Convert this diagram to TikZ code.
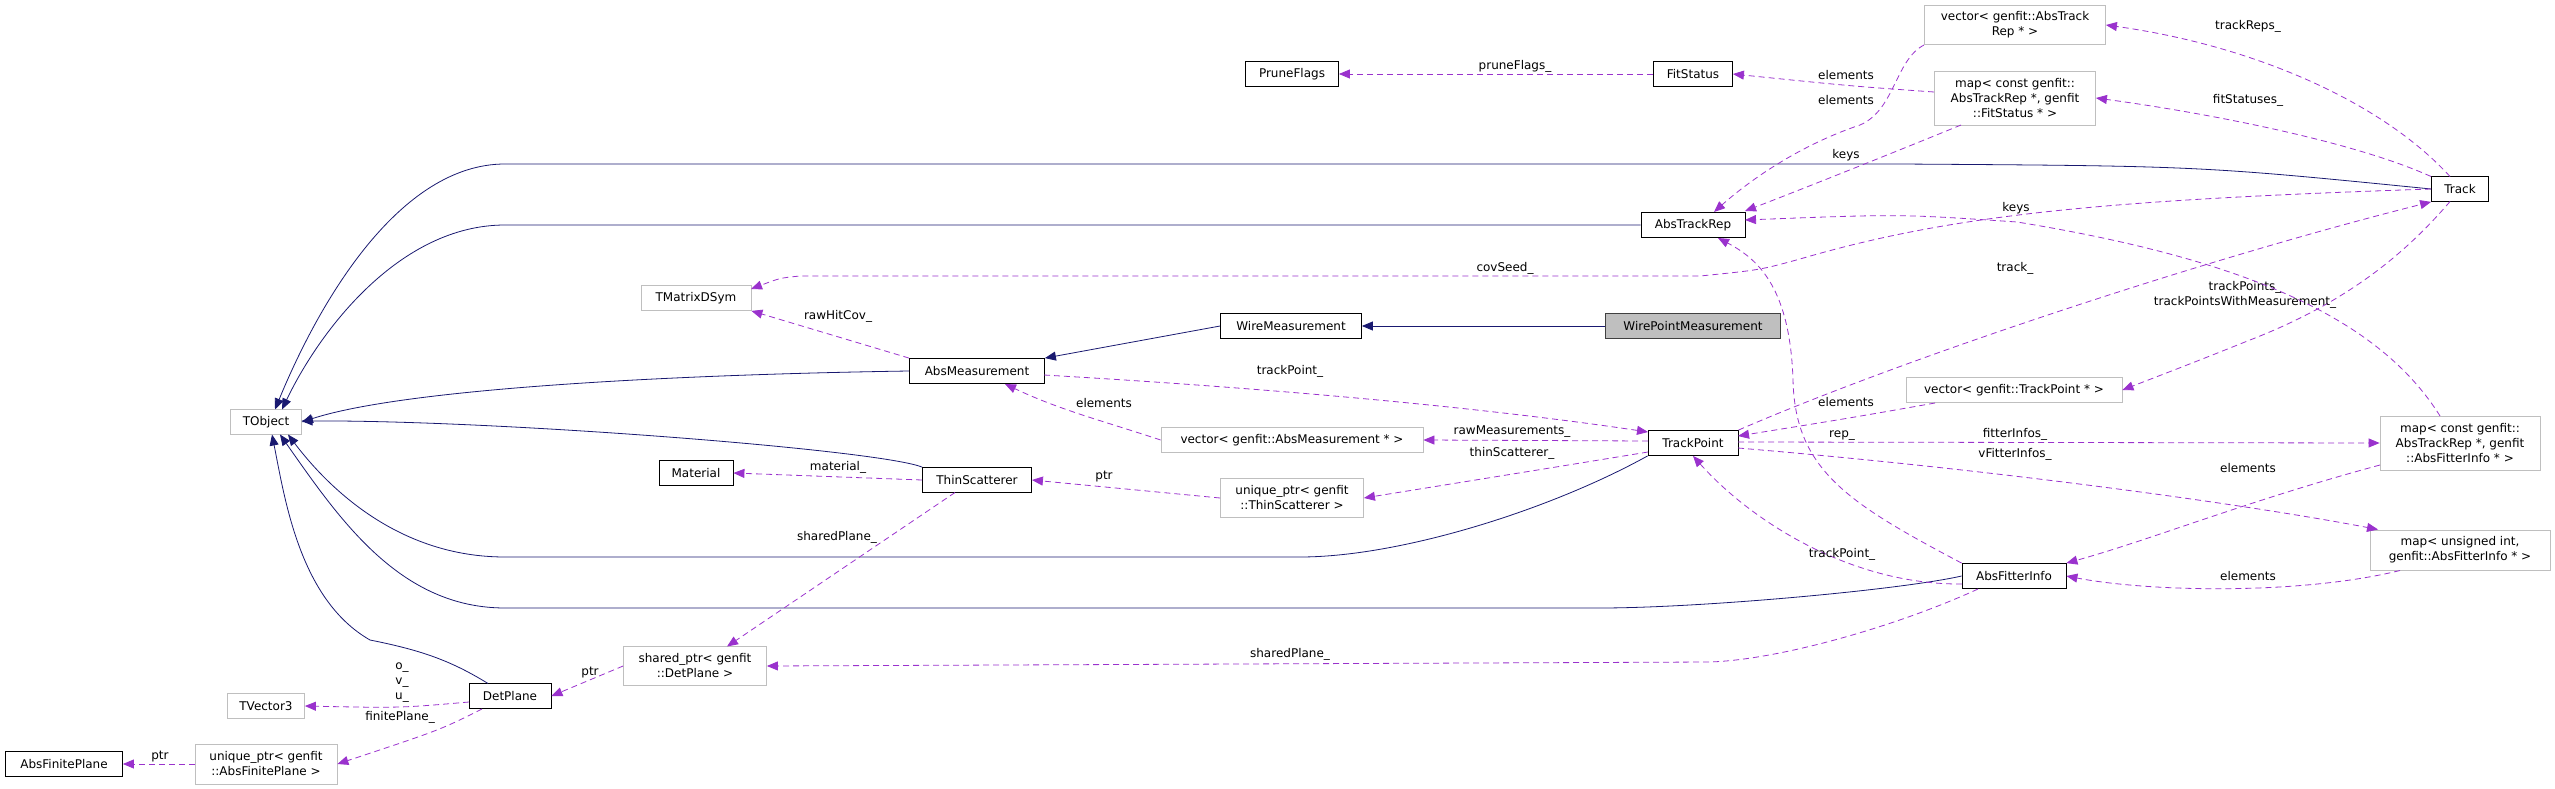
\documentclass[tikz,border=0pt]{standalone}
\usepackage{fontspec}
\setmainfont{DejaVu Sans}
\usetikzlibrary{arrows.meta}
\definecolor{inhcol}{HTML}{191970}
\definecolor{usecol}{HTML}{9A32CD}
\definecolor{extcol}{HTML}{BFBFBF}
\tikzset{
  cls/.style={draw=black,fill=white,thick,inner sep=2pt,minimum height=25pt,font=\fontsize{12}{15}\selectfont},
  ext/.style={cls,draw=extcol,align=center},
  cur/.style={cls,fill=extcol,draw=black!75},
  inh/.style={draw=inhcol,thick,-{Triangle[length=11pt,width=9pt]}},
  use/.style={draw=usecol,thick,dash pattern=on 6pt off 4pt,-{Triangle[length=11pt,width=9pt]}},
  lbl/.style={inner sep=0pt,font=\fontsize{12}{15}\selectfont,align=center},
}
\begin{document}
\begin{tikzpicture}[x=1pt,y=-1pt]
\useasboundingbox (0,0) rectangle (2555,789);
% classes
\node[ext,minimum width=71pt] (TObject) at (266,422) {TObject};
\node[ext,minimum width=110pt] (TMatrixDSym) at (696,298) {TMatrixDSym};
\node[cls,minimum width=135pt] (AbsMeasurement) at (977,371) {AbsMeasurement};
\node[cls,minimum width=74pt] (Material) at (696,473) {Material};
\node[cls,minimum width=109pt] (ThinScatterer) at (977,480) {ThinScatterer};
\node[ext,minimum width=143pt,minimum height=39pt] (sharedDP) at (695,666) {shared\_ptr< genfit\\::DetPlane >};
\node[cls,minimum width=82pt] (DetPlane) at (510,696) {DetPlane};
\node[ext,minimum width=77pt] (TVector3) at (266,706) {TVector3};
\node[ext,minimum width=142pt,minimum height=40pt] (uniqueAFP) at (266,764) {unique\_ptr< genfit\\::AbsFinitePlane >};
\node[cls,minimum width=117pt] (AbsFinitePlane) at (64,764) {AbsFinitePlane};
\node[cls,minimum width=93pt] (PruneFlags) at (1292,74) {PruneFlags};
\node[cls,minimum width=79pt] (FitStatus) at (1693,74) {FitStatus};
\node[cls,minimum width=104pt] (AbsTrackRep) at (1693,225) {AbsTrackRep};
\node[cls,minimum width=141pt] (WireMeasurement) at (1291,326) {WireMeasurement};
\node[cur,minimum width=175pt] (WirePoint) at (1693,326) {WirePointMeasurement};
\node[ext,minimum width=262pt] (vecAM) at (1292,440) {vector< genfit::AbsMeasurement * >};
\node[cls,minimum width=90pt] (TrackPoint) at (1693,443) {TrackPoint};
\node[ext,minimum width=143pt,minimum height=39pt] (uniqueTS) at (1292,498) {unique\_ptr< genfit\\::ThinScatterer >};
\node[ext,minimum width=181pt,minimum height=39pt] (vecATR) at (2015,25) {vector< genfit::AbsTrack\\Rep * >};
\node[ext,minimum width=161pt,minimum height=54pt] (mapFS) at (2015,98) {map< const genfit::\\AbsTrackRep *, genfit\\::FitStatus * >};
\node[cls,minimum width=57pt] (Track) at (2460,189) {Track};
\node[ext,minimum width=216pt] (vecTP) at (2014,390) {vector< genfit::TrackPoint * >};
\node[ext,minimum width=160pt,minimum height=54pt] (mapAFI) at (2460,443) {map< const genfit::\\AbsTrackRep *, genfit\\::AbsFitterInfo * >};
\node[ext,minimum width=180pt,minimum height=40pt] (mapUI) at (2460,550) {map< unsigned int,\\ genfit::AbsFitterInfo * >};
\node[cls,minimum width=104pt] (AbsFitterInfo) at (2014,576) {AbsFitterInfo};
% inheritance
\draw[inh] (Track.west) .. controls (2200,166) .. (1900,164) -- (505,164) .. controls (400,164) and (320,300) .. (275,409.5);
\draw[inh] (AbsTrackRep.west) -- (505,225) .. controls (400,225) and (320,330) .. (282,409.5);
\draw[inh] (AbsMeasurement.west) .. controls (650,375) and (400,390) .. (TObject.east);
\draw[inh] (ThinScatterer.north west) .. controls (880,450) and (500,420) .. (301.5,421);
\draw[inh] (TrackPoint.south west) .. controls (1550,510) and (1400,557) .. (1300,557) -- (505,557) .. controls (400,557) and (330,490) .. (288,434.5);
\draw[inh] (AbsFitterInfo.west) .. controls (1900,590) and (1700,608) .. (1600,608) -- (505,608) .. controls (400,608) and (340,520) .. (280,434.5);
\draw[inh] (488,683.5) .. controls (450,660) and (420,650) .. (370,640) .. controls (300,600) and (285,500) .. (272,434.5);
\draw[inh] (WireMeasurement.west) -- (AbsMeasurement.north east);
\draw[inh] (WirePoint.west) -- (WireMeasurement.east);
% members
\draw[use] (FitStatus.west) -- (PruneFlags.east);
\node[lbl] (lPrune) at (1515,66) {pruneFlags\_};
\draw[use] (1934,92) .. controls (1850,86) .. (FitStatus.east);
\node[lbl] (lElFS) at (1846,75) {elements};
\draw[use] (1961,125) .. controls (1900,150) and (1800,190) .. (1745,211);
\node[lbl] (lKeysFS) at (1846,155) {keys};
\draw[use] (1924,45) .. controls (1895,60) and (1895,110) .. (1860,125) .. controls (1800,145) and (1750,180) .. (1714,212);
\node[lbl] (lElATR) at (1846,100) {elements};
\draw[use] (2450,176.5) .. controls (2380,100) and (2250,45) .. (vecATR.east);
\node[lbl] (lReps) at (2248,26) {trackReps\_};
\draw[use] (2431,176.5) .. controls (2350,140) and (2200,112) .. (mapFS.east);
\node[lbl] (lStat) at (2248,100) {fitStatuses\_};
\draw[use] (Track.west) .. controls (2100,200) and (1950,215) .. (1800,259) .. controls (1760,270) .. (1700,276) -- (800,276) .. controls (780,278) .. (751,289);
\node[lbl] (lCov) at (1505,268) {covSeed\_};
\draw[use] (2450,201.5) .. controls (2400,260) and (2340,305) .. (2250,340) .. controls (2200,360) .. (vecTP.east);
\node[lbl] (lTP) at (2245,295) {trackPoints\_\\trackPointsWithMeasurement\_};
\draw[use] (TrackPoint.north east) .. controls (1900,360) and (2200,260) .. (Track.south west);
\node[lbl] (lTrack) at (2015,268) {track\_};
\draw[use] (2440,416) .. controls (2380,320) and (2250,260) .. (2017,222) .. controls (1900,214) .. (1745,220);
\node[lbl] (lKeysAFI) at (2016,208) {keys};
\draw[use] (AbsFitterInfo.north west) .. controls (1848,503) and (1795,470) .. (1793,380) .. controls (1790,290) and (1760,260) .. (1718,238);
\node[lbl] (lRep) at (1842,436) {rep\_};
\draw[use] (AbsMeasurement.north west) -- (TMatrixDSym.south east);
\node[lbl] (lRaw) at (838,316) {rawHitCov\_};
\draw[use] (1044,375) .. controls (1300,390) and (1500,410) .. (1648,432);
\node[lbl] (lTPm) at (1290,371) {trackPoint\_};
\draw[use] (vecAM.west) .. controls (1100,420) and (1060,410) .. (1005,384);
\node[lbl] (lElAM) at (1104,403) {elements};
\draw[use] (1648,441) -- (vecAM.east);
\node[lbl] (lRawM) at (1512,432) {rawMeasurements\_};
\draw[use] (1648,452) .. controls (1550,468) .. (uniqueTS.east);
\node[lbl] (lThin) at (1512,453) {thinScatterer\_};
\draw[use] (uniqueTS.west) -- (ThinScatterer.east);
\node[lbl] (lPtrTS) at (1104,477) {ptr};
\draw[use] (ThinScatterer.west) -- (Material.east);
\node[lbl] (lMat) at (838,467) {material\_};
\draw[use] (955,492.5) -- (727,646.5);
\node[lbl] (lSP1) at (837,537) {sharedPlane\_};
\draw[use] (1935,403) .. controls (1850,418) .. (1738,436);
\node[lbl] (lElTP) at (1846,402) {elements};
\draw[use] (1738,442) -- (mapAFI.west);
\node[lbl] (lFI) at (2015,434) {fitterInfos\_};
\draw[use] (1738,448) .. controls (2000,470) and (2250,505) .. (2378,529.5);
\node[lbl] (lVFI) at (2015,454) {vFitterInfos\_};
\draw[use] (2380,465) .. controls (2250,500) and (2150,540) .. (AbsFitterInfo.north east);
\node[lbl] (lElAFI) at (2248,468) {elements};
\draw[use] (2400,570.5) .. controls (2300,595) and (2150,592) .. (AbsFitterInfo.east);
\node[lbl] (lElUI) at (2248,576) {elements};
\draw[use] (1962,584) .. controls (1850,585) and (1750,520) .. (TrackPoint.south);
\node[lbl] (lTPa) at (1842,554) {trackPoint\_};
\draw[use] (1978,589) .. controls (1900,625) and (1780,660) .. (1709,662) -- (sharedDP.east);
\node[lbl] (lSP2) at (1290,654) {sharedPlane\_};
\draw[use] (sharedDP.west) -- (DetPlane.east);
\node[lbl] (lPtrDP) at (590,673) {ptr};
\draw[use] (469,702) .. controls (400,708) .. (TVector3.east);
\node[lbl] (lOVU) at (402,683) {o\_\\v\_\\u\_};
\draw[use] (482,709) .. controls (440,730) .. (uniqueAFP.east);
\node[lbl] (lFin) at (400,717) {finitePlane\_};
\draw[use] (uniqueAFP.west) -- (AbsFinitePlane.east);
\node[lbl] (lPtrAFP) at (160,757) {ptr};
\end{tikzpicture}
\end{document}
